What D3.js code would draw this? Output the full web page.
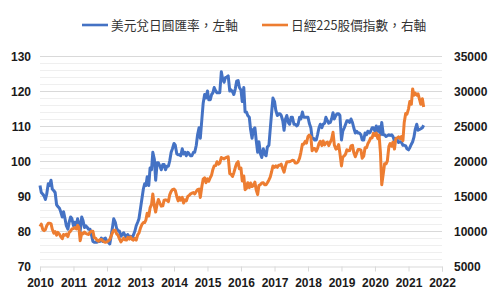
<!DOCTYPE html>
<html>
<head>
<meta charset="utf-8">
<script src="https://cdn.jsdelivr.net/npm/d3@7"></script>
<style>
  body { margin: 0; background: #fff; }
  svg { display: block; }
</style>
</head>
<body>
<svg id="chart"></svg>
<script>
// semi-monthly readings (1st and 15th), Jan 2010 .. Jun 2021
const usdJpy = [
  // 2010
  93, 91, 90.5, 90, 89, 90.5, 93.5, 93, 94.5, 92, 91.5, 91, 87.5, 87, 86.5, 85.5, 84, 85.5, 83.5, 81.5, 80.5, 82.5, 84, 83.5,
  // 2011
  81.5, 82.5, 81.5, 83.5, 82, 80, 84, 83, 81, 81.5, 81, 80.5, 80.5, 79, 77, 76.8, 76.8, 76.8, 77, 77, 78, 77, 77.8, 78,
  // 2012
  77, 76.8, 76.3, 78.5, 81, 83.5, 82.5, 80.8, 80, 80, 78.5, 79, 79.5, 78.8, 78.2, 79, 78.3, 78.5, 78, 78.8, 80, 81.5, 82.5, 83.5,
  // 2013
  86.5, 89, 92, 93.5, 93, 95.5, 93, 98, 97.5, 102.5, 100.5, 94.5, 99.5, 99.5, 98.5, 97.5, 99, 99, 97.5, 98.5, 98.5, 100, 102.5, 103.5,
  // 2014
  105, 104.5, 102, 101.8, 101.8, 101.5, 103.5, 102, 102.5, 101.5, 102.5, 102, 101.5, 101.5, 102.5, 102.5, 104.5, 107.5, 109.5, 106.5, 112, 116.5, 119, 118,
  // 2015
  120, 117.5, 117.5, 119, 119.5, 121, 120, 119.5, 119.5, 119.5, 125.5, 123.5, 122.5, 123.8, 124, 124.3, 120, 120.3, 119.8, 119, 120.7, 122.8, 123, 121,
  // 2016
  120.3, 117, 121, 114, 114, 113, 112.5, 109, 106.5, 109, 109.5, 106, 102.5, 105.5, 102, 101, 103.5, 102, 101.5, 104, 104.5, 109, 114, 118,
  // 2017
  117, 114.5, 113, 113.5, 113.5, 113, 111.5, 108.8, 112, 113, 111, 110.5, 112.5, 112.5, 110.5, 110.5, 110, 110.5, 112.5, 112, 114, 112.5, 112.5, 112.5,
  // 2018
  112.5, 110.8, 109.5, 106.5, 106.5, 106, 106, 107.5, 109.5, 110.5, 109.5, 110.5, 110.8, 112.5, 111.5, 110.8, 111, 112, 113.8, 112, 113, 113.5, 113.5, 113,
  // 2019
  106, 108.5, 109.5, 110.5, 111.5, 111.5, 111, 112, 111, 109.5, 108, 108.5, 108, 108, 107.5, 106, 106, 108, 107.5, 108.5, 108, 108.5, 109.5, 109.5,
  // 2020
  108.5, 110, 108.5, 109.8, 107.5, 111, 107.5, 107.5, 107, 107.2, 107.5, 107.3, 107.5, 107, 105.8, 106.5, 106, 105.3, 105.5, 105.4, 104.5, 104.5, 104.3, 103.5,
  // 2021
  103.2, 103.8, 104.8, 105.5, 106.8, 109, 110.5, 108.8, 109, 109.2, 109.5, 110.2
];

const nikkei = [
  // 2010
  10650, 10980, 10200, 10050, 10200, 10750, 11100, 11100, 11050, 10250, 9700, 9900, 9400, 9800, 9550, 9200, 8900, 9500, 9400, 9550, 9200, 9800, 9990, 10300,
  // 2011
  10350, 10500, 10300, 10800, 10500, 8600, 9700, 9600, 9850, 9650, 9550, 9500, 9850, 9950, 9950, 9050, 8950, 8650, 8550, 8750, 8800, 8600, 8450, 8380,
  // 2012
  8450, 8600, 8800, 9250, 9750, 10100, 10100, 9600, 9400, 8900, 8450, 8700, 9000, 8750, 8700, 9100, 8850, 9150, 8800, 8700, 8950, 8700, 9450, 9700,
  // 2013
  10450, 10900, 11200, 11200, 11600, 12550, 12150, 13300, 13800, 15300, 13500, 12700, 13850, 14500, 13950, 13550, 13600, 14400, 14450, 14400, 14200, 15150, 15650, 15900,
  // 2014
  16000, 15800, 14900, 14300, 14800, 14400, 14800, 14000, 14450, 14300, 14950, 15100, 15300, 15400, 15500, 15300, 15650, 15900, 16000, 14800, 16400, 17400, 17600, 16900,
  // 2015
  17450, 17100, 17650, 18000, 18800, 19300, 19350, 19900, 19550, 19700, 20500, 20400, 20300, 20450, 20550, 20600, 18200, 18100, 17800, 18300, 19100, 19650, 19900, 18900,
  // 2016
  19000, 17150, 17850, 15900, 16100, 16900, 16200, 16850, 16350, 16500, 17000, 15900, 15200, 16500, 16650, 16850, 16900, 16600, 16600, 16900, 17300, 17700, 18500, 19300,
  // 2017
  19100, 19300, 19100, 19400, 19400, 19550, 18900, 18400, 19300, 19850, 19900, 19900, 20000, 20100, 20050, 19700, 19700, 19900, 20400, 21200, 22400, 22400, 22800, 22550,
  // 2018
  23500, 23700, 23400, 21450, 21800, 21800, 21400, 21800, 22500, 22800, 22200, 22850, 22300, 22600, 22700, 22200, 22700, 23100, 24100, 22300, 21700, 21800, 22350, 21100,
  // 2019
  19300, 20550, 20750, 21000, 21600, 21450, 21500, 22150, 22250, 21200, 20600, 21100, 21650, 21650, 21550, 20400, 20700, 21900, 21900, 22450, 22850, 23300, 23300, 23950,
  // 2020
  23650, 24000, 23200, 23700, 21150, 16600, 18200, 19600, 19600, 20000, 22100, 22500, 22100, 22700, 21700, 23200, 23300, 23450, 23200, 23500, 22900, 25500, 26800, 26700,
  // 2021
  27450, 28500, 28100, 30300, 29400, 29700, 29400, 29600, 28800, 28100, 28900, 27700
];

const yearTicks = [2010, 2011, 2012, 2013, 2014, 2015, 2016, 2017, 2018, 2019, 2020, 2021, 2022];
const leftTicks = [70, 80, 90, 100, 110, 120, 130];
const rightTicks = [5000, 10000, 15000, 20000, 25000, 30000, 35000];
const seriesNames = ["美元兌日圓匯率，左軸", "日經225股價指數，右軸"];
const seriesColors = ["#4472C4", "#ED7D31"];

// reading dates: 1st and 15th of each month
const dates = [];
d3.timeMonth.range(new Date(2010, 0, 1), new Date(2021, 6, 1)).forEach(m => {
  dates.push(m, new Date(m.getFullYear(), m.getMonth(), 15));
});

const W = 500, H = 300;
const plotL = 40, plotR = 442, plotT = 56, plotB = 266;

const svg = d3.select("#chart").attr("width", W).attr("height", H);
svg.append("rect").attr("width", W).attr("height", H).attr("fill", "#fff");

const x = d3.scaleTime()
  .domain([new Date(2010, 0, 1), new Date(2022, 0, 1)])
  .range([plotL, plotR]);
const yL = d3.scaleLinear().domain([70, 130]).range([plotB, plotT]);
const yR = d3.scaleLinear().domain([5000, 35000]).range([plotB, plotT]);

// minor gridlines every 2 units
svg.append("g")
  .selectAll("line")
  .data(d3.range(72, 130, 2).filter(v => v % 10 !== 0))
  .join("line")
  .attr("x1", plotL).attr("x2", plotR)
  .attr("y1", d => Math.round(yL(d)) + 0.5).attr("y2", d => Math.round(yL(d)) + 0.5)
  .attr("stroke", "#efefef");

// major gridlines
svg.append("g")
  .selectAll("line")
  .data(leftTicks.slice(1))
  .join("line")
  .attr("x1", plotL).attr("x2", plotR)
  .attr("y1", d => Math.round(yL(d)) + 0.5).attr("y2", d => Math.round(yL(d)) + 0.5)
  .attr("stroke", "#d9d9d9")
  .attr("stroke-width", 1.2);

// x axis
const xAxis = d3.axisBottom(x)
  .tickValues(yearTicks.map(y => new Date(y, 0, 1)))
  .tickFormat(d3.timeFormat("%Y"))
  .tickSize(5)
  .tickPadding(7);

const gx = svg.append("g")
  .attr("transform", `translate(0,${Math.round(plotB) + 0.5})`)
  .call(xAxis);
gx.select(".domain").attr("stroke", "#d9d9d9");
gx.selectAll(".tick line").attr("stroke", "#d9d9d9");
gx.selectAll(".tick text")
  .attr("fill", "#1a1a1a")
  .style("font", "bold 12px 'Liberation Sans', Arial, sans-serif");

// left axis
const gl = svg.append("g")
  .attr("transform", `translate(${plotL - 9},0)`)
  .call(d3.axisLeft(yL).tickValues(leftTicks).tickSize(0).tickPadding(0));
gl.select(".domain").remove();
gl.selectAll(".tick text")
  .attr("fill", "#1a1a1a")
  .attr("dy", "0.4em")
  .style("font", "bold 12px 'Liberation Sans', Arial, sans-serif");

// right axis
const gr = svg.append("g")
  .attr("transform", `translate(${plotR + 12},0)`)
  .call(d3.axisRight(yR).tickValues(rightTicks).tickFormat(d3.format("d")).tickSize(0).tickPadding(0));
gr.select(".domain").remove();
gr.selectAll(".tick text")
  .attr("fill", "#1a1a1a")
  .attr("dy", "0.4em")
  .style("font", "bold 12px 'Liberation Sans', Arial, sans-serif");

// lines
const lineL = d3.line()
  .x((d, i) => x(dates[i]))
  .y(d => yL(d));
const lineR = d3.line()
  .x((d, i) => x(dates[i]))
  .y(d => yR(d));

svg.append("path")
  .datum(usdJpy)
  .attr("d", lineL)
  .attr("fill", "none")
  .attr("stroke", seriesColors[0])
  .attr("stroke-width", 3)
  .attr("stroke-linejoin", "round");

svg.append("path")
  .datum(nikkei)
  .attr("d", lineR)
  .attr("fill", "none")
  .attr("stroke", seriesColors[1])
  .attr("stroke-width", 3)
  .attr("stroke-linejoin", "round");

// legend
const legendX = [82, 262];
const legend = svg.append("g")
  .selectAll("g")
  .data(seriesNames)
  .join("g")
  .attr("transform", (d, i) => `translate(${legendX[i]},25)`);
legend.append("line")
  .attr("x1", 0).attr("x2", 26)
  .attr("stroke", (d, i) => seriesColors[i])
  .attr("stroke-width", 2.6);
legend.append("text")
  .attr("x", 29)
  .attr("dy", "0.36em")
  .attr("fill", "#333")
  .style("font", "12.7px 'Noto Sans CJK TC', 'Noto Sans', sans-serif")
  .text(d => d);
</script>
</body>
</html>
